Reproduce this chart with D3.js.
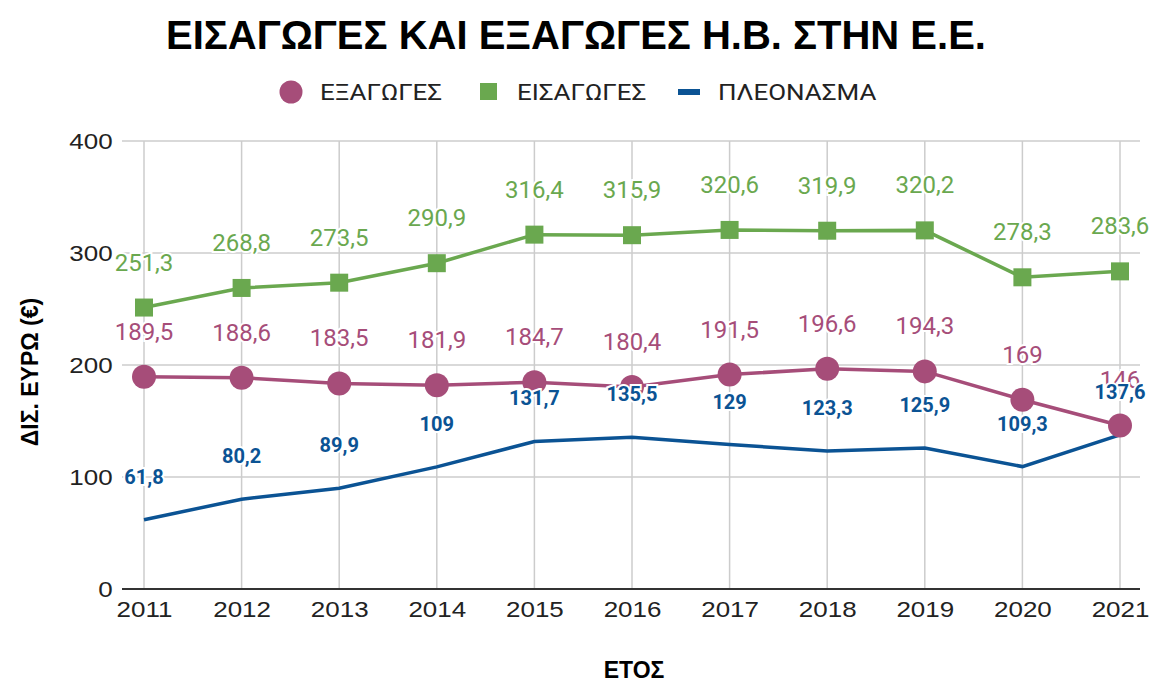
<!DOCTYPE html>
<html>
<head>
<meta charset="utf-8">
<script src="https://cdn.jsdelivr.net/npm/d3@7"></script>
<style>
  body { margin: 0; background: #fff; }
  text { font-family: Roboto, "Liberation Sans", sans-serif; }
</style>
</head>
<body>
<script>
// data
const years = ["2011","2012","2013","2014","2015","2016","2017","2018","2019","2020","2021"];
const exports_ = [189.5, 188.6, 183.5, 181.9, 184.7, 180.4, 191.5, 196.6, 194.3, 169, 146];
const imports_ = [251.3, 268.8, 273.5, 290.9, 316.4, 315.9, 320.6, 319.9, 320.2, 278.3, 283.6];
const surplus = [61.8, 80.2, 89.9, 109, 131.7, 135.5, 129, 123.3, 125.9, 109.3, 137.6];
const yTicks = [0, 100, 200, 300, 400];

const W = 1153, H = 682;
const svg = d3.select("body").append("svg").attr("width", W).attr("height", H);

const plotL = 122, plotR = 1140, plotT = 141, plotB = 589;
const arial = "'Liberation Sans', Arial, sans-serif";
const wide = "scale(1.18,1)"; // axis/legend text in the source is a bit wider

// scales
const x = d3.scalePoint().domain(years).range([144, 1120]);
const y = d3.scaleLinear().domain([0, 400]).range([plotB, plotT]);
const loc = d3.formatLocale({decimal: ",", thousands: ".", grouping: [3], currency: ["", "€"]});
const fmt = v => loc.format("~f")(v);

// title
svg.append("text").attr("x", 576).attr("y", 49).attr("text-anchor", "middle")
  .style("font-family", arial)
  .style("font-weight", "bold").style("font-size", "40px").attr("fill", "#000")
  .text("ΕΙΣΑΓΩΓΕΣ ΚΑΙ ΕΞΑΓΩΓΕΣ Η.Β. ΣΤΗΝ Ε.Ε.");

// legend
const lg = svg.append("g").style("font-size", "22px").style("font-family", arial).attr("fill", "#222");
lg.append("circle").attr("cx", 291).attr("cy", 92).attr("r", 11.5).attr("fill", "#a64d79");
lg.append("text").attr("transform", "translate(320,100) " + wide).text("ΕΞΑΓΩΓΕΣ");
lg.append("rect").attr("x", 480).attr("y", 83).attr("width", 17).attr("height", 17).attr("fill", "#6aa84f");
lg.append("text").attr("transform", "translate(517,100) " + wide).text("ΕΙΣΑΓΩΓΕΣ");
lg.append("rect").attr("x", 678).attr("y", 89).attr("width", 22).attr("height", 6).attr("fill", "#0b5394");
lg.append("text").attr("transform", "translate(718,100) " + wide).text("ΠΛΕΟΝΑΣΜΑ");

// grid
svg.append("g").selectAll("line").data(yTicks.filter(d => d > 0)).join("line")
  .attr("x1", plotL).attr("x2", plotR).attr("y1", d => y(d)).attr("y2", d => y(d))
  .attr("stroke", "#cccccc").attr("stroke-width", 1.5);
svg.append("g").selectAll("line").data(years).join("line")
  .attr("x1", d => x(d)).attr("x2", d => x(d)).attr("y1", plotT).attr("y2", plotB)
  .attr("stroke", "#cccccc").attr("stroke-width", 1.5);

// axes
const yAxis = svg.append("g").attr("transform", `translate(${plotL},0)`)
  .call(d3.axisLeft(y).tickValues(yTicks).tickSize(0).tickPadding(8));
yAxis.select(".domain").remove();
yAxis.selectAll("text").style("font-size", "22px").attr("fill", "#222").style("font-family", arial)
  .attr("transform", wide);

svg.append("line").attr("x1", plotL).attr("x2", plotR).attr("y1", plotB).attr("y2", plotB)
  .attr("stroke", "#333").attr("stroke-width", 2);
const xAxis = svg.append("g").attr("transform", `translate(0,${plotB})`)
  .call(d3.axisBottom(x).tickSize(0).tickPadding(12));
xAxis.select(".domain").remove();
xAxis.selectAll("text").style("font-size", "22px").attr("fill", "#222").style("font-family", arial)
  .attr("transform", wide);

// axis titles
svg.append("text").attr("transform", "translate(38,372) rotate(-90)").attr("text-anchor", "middle")
  .style("font-family", arial).style("font-weight", "bold").style("font-size", "23px")
  .attr("fill", "#000").text("ΔΙΣ. ΕΥΡΩ (€)");
svg.append("text").attr("x", 634).attr("y", 678).attr("text-anchor", "middle")
  .style("font-family", arial).style("font-weight", "bold").style("font-size", "23px")
  .attr("fill", "#000").text("ΕΤΟΣ");

// lines
const line = d3.line().x((d, i) => x(years[i])).y(d => y(d));
svg.append("path").datum(surplus).attr("d", line).attr("fill", "none").attr("stroke", "#0b5394").attr("stroke-width", 3.5);
svg.append("path").datum(exports_).attr("d", line).attr("fill", "none").attr("stroke", "#a64d79").attr("stroke-width", 3.5);
svg.append("path").datum(imports_).attr("d", line).attr("fill", "none").attr("stroke", "#6aa84f").attr("stroke-width", 3.5);

// markers
svg.append("g").selectAll("circle").data(exports_).join("circle")
  .attr("cx", (d, i) => x(years[i])).attr("cy", d => y(d)).attr("r", 12).attr("fill", "#a64d79");
svg.append("g").selectAll("rect").data(imports_).join("rect")
  .attr("x", (d, i) => x(years[i]) - 9).attr("y", d => y(d) - 9).attr("width", 18).attr("height", 18).attr("fill", "#6aa84f");

// data labels
function labels(data, color, size, weight, dy) {
  svg.append("g").selectAll("text").data(data).join("text")
    .attr("x", (d, i) => x(years[i])).attr("y", d => y(d) - dy)
    .attr("text-anchor", "middle").style("font-size", size).style("font-weight", weight)
    .attr("fill", color).attr("stroke", "#fff").attr("stroke-width", 4).attr("paint-order", "stroke")
    .text(d => fmt(d));
}
labels(imports_, "#6aa84f", "24px", "normal", 37);
labels(exports_, "#a64d79", "24px", "normal", 37);
labels(surplus, "#0b5394", "20px", "bold", 36);
</script>
</body>
</html>
